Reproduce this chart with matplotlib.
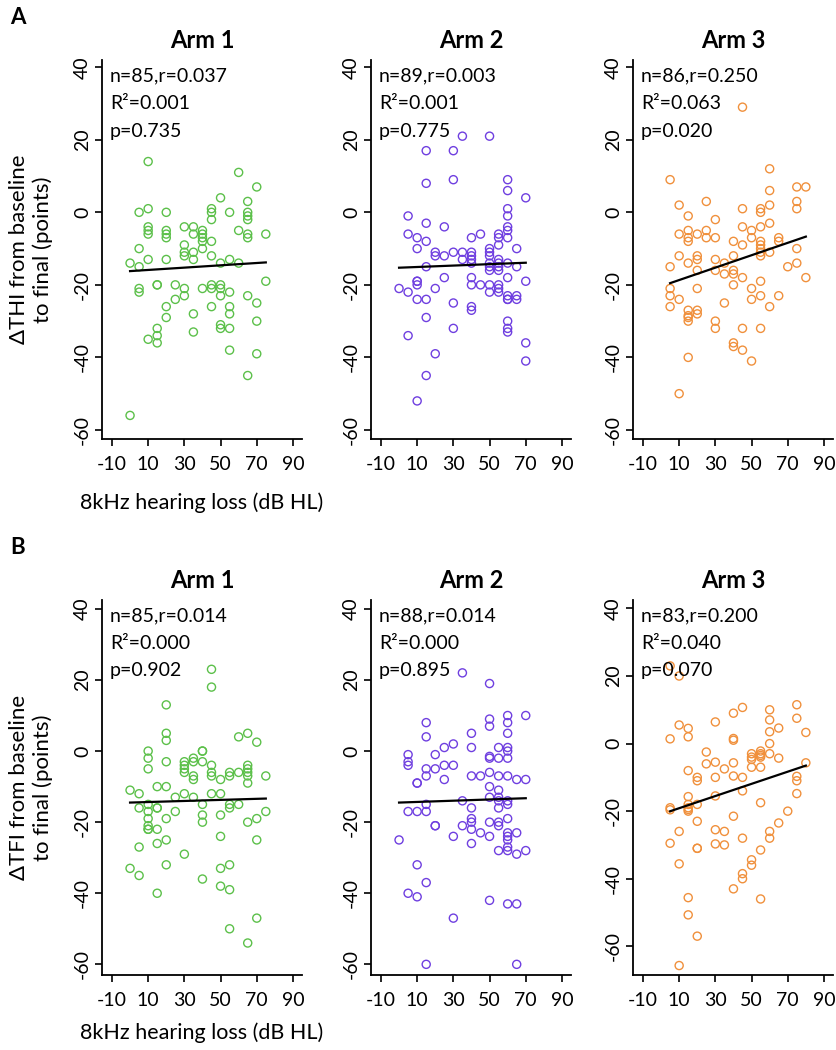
import matplotlib.pyplot as plt
import numpy as np

plt.rcParams['font.family'] = ['Lato', 'DejaVu Sans']
plt.rcParams['axes.unicode_minus'] = False

W, H = 837, 1050

# ---- data ----
# A: change in THI, B: change in TFI; x = 8kHz hearing loss (dB HL)
a1_x = [0, 0, 5, 5, 5, 5, 5, 10, 10, 10, 10, 10, 10, 10, 15, 15, 15, 15, 15,
        20, 20, 20, 20, 20, 20, 20, 25, 25, 30, 30, 30, 30, 30, 30,
        35, 35, 35, 35, 35, 35, 40, 40, 40, 40, 40, 40, 45, 45, 45, 45, 45, 45, 45, 45,
        50, 50, 50, 50, 50, 50, 50, 55, 55, 55, 55, 55, 55, 55, 60, 60, 60,
        65, 65, 65, 65, 65, 65, 65, 65, 70, 70, 70, 70, 75, 75]
a1_y = [-56, -14, -10, -15, -21, -22, 0, 14, 1, -4, -5, -6, -13, -35, -20, -20, -32, -34, -36,
        0, -5, -6, -7, -13, -26, -29, -20, -24, -4, -9, -11, -12, -21, -23,
        -4, -6, -11, -13, -28, -33, -5, -6, -7, -8, -10, -21, 1, 0, -2, -8, -12, -20, -21, -26,
        4, -14, -20, -21, -23, -31, -32, 0, -13, -22, -26, -28, -32, -38, 11, -5, -14,
        3, 0, -1, -2, -6, -7, -23, -45, 7, -25, -30, -39, -6, -19]

a2_x = [0, 5, 5, 5, 5, 10, 10, 10, 10, 10, 10, 10, 15, 15, 15, 15, 15, 15, 15, 15,
        20, 20, 20, 20, 25, 25, 25, 30, 30, 30, 30, 30, 35, 35, 35,
        40, 40, 40, 40, 40, 40, 40, 40, 40, 45, 45,
        50, 50, 50, 50, 50, 50, 50, 50, 50,
        55, 55, 55, 55, 55, 55, 55, 55, 55, 55,
        60, 60, 60, 60, 60, 60, 60, 60, 60, 60, 60, 60, 60, 60, 60,
        65, 65, 65, 65, 70, 70, 70, 70]
a2_y = [-21, -1, -6, -22, -34, -7, -10, -19, -19, -20, -24, -52, 17, 8, -3, -8, -15, -24, -29, -45,
        -11, -12, -21, -39, -4, -12, -18, 17, 9, -11, -25, -32, 21, -11, -13,
        -7, -11, -12, -13, -14, -18, -20, -26, -27, -6, -20,
        21, -10, -11, -12, -14, -15, -16, -20, -22,
        -6, -7, -9, -13, -14, -15, -16, -20, -21, -22,
        9, 6, 1, -1, -4, -5, -7, -14, -18, -23, -24, -24, -30, -32, -33,
        -10, -15, -23, -24, 4, -19, -36, -41]

a3_x = [5, 5, 5, 5, 5, 10, 10, 10, 10, 10,
        15, 15, 15, 15, 15, 15, 15, 15, 15, 15,
        20, 20, 20, 20, 20, 20, 20, 25, 25, 25, 30, 30, 30, 30, 30, 30,
        35, 35, 35, 40, 40, 40, 40, 40, 40, 40, 45, 45, 45, 45, 45, 45, 45,
        50, 50, 50, 50, 50, 55, 55, 55, 55, 55, 55, 55, 55, 55, 55, 55,
        60, 60, 60, 60, 60, 60, 65, 65, 65, 70, 75, 75, 75, 75, 75, 80, 80]
a3_y = [9, -15, -21, -23, -26, 2, -6, -12, -24, -50,
        -1, -5, -7, -8, -14, -27, -28.5, -29, -30, -40,
        -6, -12, -13, -16, -21, -27, -28, 3, -5, -7, -2, -7, -13, -16, -30, -32,
        -14, -17, -25, -8, -12, -16, -17, -20, -36, -37, 29, 1, -4, -9, -18, -32, -38,
        -5, -7, -21, -24, -41, 1, 0, -4, -8, -9, -10, -11, -12, -19, -23, -32,
        12, 6, 2, -3, -11, -26, -7, -8, -23, -15, 7, 3, 1, -10, -14, 7, -18]

b1_x = [0, 0, 5, 5, 5, 5, 10, 10, 10, 10, 10, 10, 10, 10, 10, 15, 15, 15, 15, 15, 15,
        20, 20, 20, 20, 20, 20, 20, 20, 25, 25, 30, 30, 30, 30, 30, 30,
        35, 35, 35, 35, 35, 40, 40, 40, 40, 40, 40, 40, 45, 45, 45, 45, 45, 45,
        50, 50, 50, 50, 50, 50, 55, 55, 55, 55, 55, 55, 55, 60, 60, 60,
        65, 65, 65, 65, 65, 65, 65, 65, 70, 70, 70, 70, 75, 75]
b1_y = [-11, -33, -12, -16, -27, -35, 0, -2, -5, -15, -17, -19, -21, -22, -22, -10, -16, -16, -22, -26, -40,
        13, 5, 3, -3, -10, -19, -25, -32, -13, -17, -3, -4, -5, -6, -12, -29,
        -2, -3, -7, -8, -13, 0, 0, -3, -15, -18, -20, -36, 23, 18, -4, -6, -7, -12,
        -8, -12, -18, -24, -33, -38, -6, -7, -15, -16, -32, -39, -50, 4, -6, -15,
        5, -4, -5, -6, -7, -9, -20, -54, 2.5, -19, -25, -47, -7, -17]

b2_x = [0, 5, 5, 5, 5, 5, 10, 10, 10, 10, 10, 15, 15, 15, 15, 15, 15, 15, 15,
        20, 20, 20, 20, 25, 25, 25, 30, 30, 30, 30, 35, 35, 35,
        40, 40, 40, 40, 40, 40, 40, 40, 45, 45,
        50, 50, 50, 50, 50, 50, 50, 50, 50, 50, 50,
        55, 55, 55, 55, 55, 55, 55, 55, 55, 55,
        60, 60, 60, 60, 60, 60, 60, 60, 60, 60, 60, 60, 60, 60, 60, 60,
        65, 65, 65, 65, 65, 70, 70, 70]
b2_y = [-25, -1, -3, -4, -17, -40, -9, -9, -17, -32, -41, 8, 4, -5, -7, -15, -17, -37, -60,
        -1, -5, -21, -21, 1, -4, -8, 2, -4, -24, -47, 22, -14, -21,
        5, 1, -7, -16, -19, -20, -22, -26, -7, -23,
        19, 9, 7, -1.5, -2, -6, -10, -13, -20, -24, -42,
        1, -2, -7, -11, -13, -14, -16, -20, -21, -28,
        10, 8, 5, 1, 0, -2, -7, -14, -15, -19, -23, -24, -25, -27, -28, -43,
        -8, -23, -29, -43, -60, 10, -8, -28]

b3_x = [5, 5, 5, 5, 5, 10, 10, 10, 10, 10,
        15, 15, 15, 15, 15, 15, 15, 15, 15, 15,
        20, 20, 20, 20, 20, 20, 20, 25, 25, 30, 30, 30, 30, 30, 30,
        35, 35, 35, 40, 40, 40, 40, 40, 40, 40, 45, 45, 45, 45, 45, 45,
        50, 50, 50, 50, 50, 50, 55, 55, 55, 55, 55, 55, 55, 55,
        60, 60, 60, 60, 60, 60, 60, 65, 65, 65, 70, 75, 75, 75, 75, 75, 80, 80]
b3_y = [23, 1.4, -19, -19.6, -29.5, 20, 5.5, -26, -35.6, -65.7,
        4.5, 2, -8, -15.7, -18, -19, -19.5, -20, -45.6, -50.7,
        -10, -11, -18, -23, -31, -31, -57, -2.5, -6, 6.4, -5.5, -10, -15.5, -25.5, -29.7,
        -7.5, -26, -30, 9, 1.5, 1, -5.7, -9.6, -21.5, -43, 10.7, -10, -14, -28, -38.5, -40,
        -3, -4, -4.7, -7, -34.4, -36, -2.2, -3, -3.5, -4, -7, -17.5, -31.5, -46,
        10, 7, 3.5, 0, -3, -26, -28, 4.6, -4.3, -23.5, -20, 11.5, 7.5, -9.7, -11, -14.8, 3.3, -5.7]

arm_titles = ['Arm 1', 'Arm 2', 'Arm 3']
arm_colors = ['#5cc04a', '#6f3fe0', '#f0903c']
stats_a = [('n=85,r=0.037', 'R²=0.001', 'p=0.735'),
           ('n=89,r=0.003', 'R²=0.001', 'p=0.775'),
           ('n=86,r=0.250', 'R²=0.063', 'p=0.020')]
stats_b = [('n=85,r=0.014', 'R²=0.000', 'p=0.902'),
           ('n=88,r=0.014', 'R²=0.000', 'p=0.895'),
           ('n=83,r=0.200', 'R²=0.040', 'p=0.070')]
xticks = [-10, 10, 30, 50, 70, 90]
yticks = [-60, -40, -20, 0, 20, 40]

fig = plt.figure(figsize=(W / 100, H / 100), dpi=100)

lefts = [102, 371, 633]
ax_w = 200


def make_ax(left, top, bottom):
    return fig.add_axes([left / W, 1 - bottom / H, ax_w / W, (bottom - top) / H])


def draw_panel(ax, x, y, color, stats, title, ylim):
    x = np.array(x, float)
    y = np.array(y, float)
    ax.scatter(x, y, s=34, facecolors='none', edgecolors=color, linewidths=1.0, zorder=2)
    k, b = np.polyfit(x, y, 1)
    xx = np.array([x.min(), x.max()])
    ax.plot(xx, k * xx + b, color='black', lw=1.6, zorder=3)
    ax.set_xlim(-15.5, 95)
    ax.set_ylim(*ylim)
    ax.set_xticks(xticks)
    ax.set_yticks(yticks)
    ax.tick_params(axis='both', direction='out', length=5, width=1.2, labelsize=14, pad=3)
    ax.tick_params(axis='x', pad=7)
    for lab in ax.get_yticklabels():
        lab.set_rotation(90)
        lab.set_va('center')
    for s in ['top', 'right']:
        ax.spines[s].set_visible(False)
    for s in ['left', 'bottom']:
        ax.spines[s].set_linewidth(1.3)
    for i, line in enumerate(stats):
        ax.text(0.04, 0.98 - i * 0.073, line, transform=ax.transAxes,
                fontsize=14, va='top', ha='left')
    ax.set_title(title, fontsize=17, fontweight='bold', pad=9)


# row A
for i, (xs, ys) in enumerate([(a1_x, a1_y), (a2_x, a2_y), (a3_x, a3_y)]):
    ax = make_ax(lefts[i], 60, 439)
    draw_panel(ax, xs, ys, arm_colors[i], stats_a[i], arm_titles[i], (-62.5, 42))
    if i == 0:
        ax.set_ylabel('ΔTHI from baseline\nto final (points)', fontsize=16, labelpad=15)
        ax.set_xlabel('8kHz hearing loss (dB HL)', fontsize=15.5, labelpad=14)

# row B
ylims_b = [(-63, 42.5), (-63, 42.5), (-68.5, 42.5)]
for i, (xs, ys) in enumerate([(b1_x, b1_y), (b2_x, b2_y), (b3_x, b3_y)]):
    ax = make_ax(lefts[i], 600, 975)
    draw_panel(ax, xs, ys, arm_colors[i], stats_b[i], arm_titles[i], ylims_b[i])
    if i == 0:
        ax.set_ylabel('ΔTFI from baseline\nto final (points)', fontsize=16, labelpad=15)
        ax.set_xlabel('8kHz hearing loss (dB HL)', fontsize=15.5, labelpad=10)

fig.text(10 / W, 1 - 18 / H, 'A', fontsize=16, fontweight='bold', va='center')
fig.text(10 / W, 1 - 548 / H, 'B', fontsize=16, fontweight='bold', va='center')

plt.savefig('out.png', dpi=100)
